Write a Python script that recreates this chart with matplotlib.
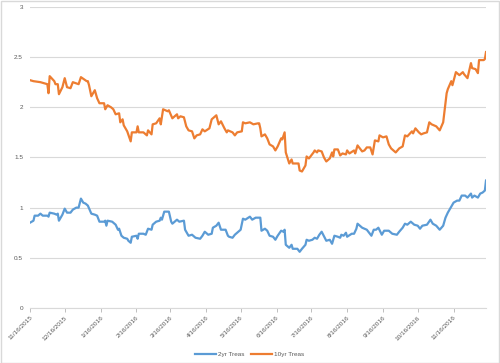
import matplotlib
matplotlib.use("Agg")
import matplotlib.pyplot as plt
import matplotlib.dates as mdates
import pandas as pd
from matplotlib.patches import Rectangle

# ---- data ----
dates_10y = ["2015-11-16","2015-11-19","2015-11-25","2015-12-01","2015-12-02","2015-12-03","2015-12-07",
    "2015-12-08","2015-12-10","2015-12-11","2015-12-14","2015-12-16","2015-12-18","2015-12-21","2015-12-23",
    "2015-12-28","2015-12-30","2016-01-04","2016-01-05","2016-01-06","2016-01-08","2016-01-11","2016-01-13",
    "2016-01-15","2016-01-19","2016-01-20","2016-01-22","2016-01-25","2016-01-27","2016-01-29","2016-02-01",
    "2016-02-02","2016-02-04","2016-02-05","2016-02-08","2016-02-11","2016-02-12","2016-02-16","2016-02-17",
    "2016-02-18","2016-02-22","2016-02-25","2016-02-26","2016-02-29","2016-03-01","2016-03-04","2016-03-07",
    "2016-03-08","2016-03-10","2016-03-14","2016-03-15","2016-03-18","2016-03-22","2016-03-23","2016-03-25",
    "2016-03-28","2016-03-30","2016-04-01","2016-04-04","2016-04-06","2016-04-08","2016-04-11","2016-04-13",
    "2016-04-15","2016-04-19","2016-04-21","2016-04-25","2016-04-27","2016-04-29","2016-05-02","2016-05-04",
    "2016-05-05","2016-05-09","2016-05-11","2016-05-13","2016-05-17","2016-05-18","2016-05-20","2016-05-24",
    "2016-05-27","2016-05-31","2016-06-01","2016-06-02","2016-06-03","2016-06-06","2016-06-08","2016-06-10",
    "2016-06-13","2016-06-15","2016-06-17","2016-06-20","2016-06-21","2016-06-23","2016-06-24","2016-06-27",
    "2016-06-29","2016-06-30","2016-07-05","2016-07-06","2016-07-08","2016-07-11","2016-07-12","2016-07-14",
    "2016-07-18","2016-07-19","2016-07-21","2016-07-22","2016-07-25","2016-07-27","2016-07-29","2016-08-01",
    "2016-08-03","2016-08-04","2016-08-05","2016-08-08","2016-08-10","2016-08-12","2016-08-15","2016-08-16",
    "2016-08-18","2016-08-22","2016-08-23","2016-08-25","2016-08-29","2016-08-31","2016-09-02","2016-09-05",
    "2016-09-07","2016-09-09","2016-09-12","2016-09-13","2016-09-16","2016-09-19","2016-09-21","2016-09-23",
    "2016-09-27","2016-09-30","2016-10-03","2016-10-05","2016-10-07","2016-10-11","2016-10-12","2016-10-14",
    "2016-10-17","2016-10-19","2016-10-21","2016-10-24","2016-10-26","2016-10-28","2016-11-01","2016-11-04",
    "2016-11-07","2016-11-10","2016-11-11","2016-11-14","2016-11-15","2016-11-18","2016-11-21","2016-11-24",
    "2016-11-25","2016-11-28","2016-12-01","2016-12-02","2016-12-05","2016-12-07","2016-12-08","2016-12-12",
    "2016-12-13","2016-12-14"]
values_10y = [2.27,2.26,2.25,2.23,2.14,2.31,2.26,
    2.23,2.23,2.13,2.20,2.29,2.20,2.19,2.25,
    2.23,2.30,2.26,2.26,2.22,2.11,2.17,2.09,
    2.04,2.04,1.98,2.02,2.00,1.98,1.93,1.94,
    1.85,1.88,1.82,1.76,1.66,1.75,1.75,1.81,
    1.75,1.75,1.72,1.77,1.73,1.83,1.84,1.89,
    1.83,1.98,1.96,1.97,1.89,1.93,1.89,1.91,
    1.90,1.81,1.77,1.76,1.69,1.72,1.73,1.78,
    1.76,1.79,1.88,1.92,1.83,1.86,1.79,1.75,
    1.77,1.75,1.72,1.75,1.76,1.85,1.84,1.85,
    1.83,1.84,1.84,1.79,1.71,1.73,1.69,1.63,
    1.61,1.57,1.61,1.69,1.68,1.75,1.55,1.44,
    1.48,1.44,1.44,1.37,1.36,1.42,1.51,1.49,
    1.55,1.57,1.55,1.57,1.56,1.50,1.46,1.49,
    1.55,1.51,1.58,1.58,1.52,1.54,1.53,1.57,
    1.54,1.57,1.54,1.62,1.56,1.57,1.60,1.60,
    1.53,1.67,1.66,1.72,1.70,1.71,1.63,1.59,
    1.55,1.59,1.61,1.72,1.71,1.76,1.74,1.79,
    1.75,1.73,1.74,1.75,1.85,1.83,1.81,1.77,
    1.85,2.14,2.18,2.26,2.22,2.35,2.32,2.35,
    2.33,2.29,2.44,2.39,2.38,2.34,2.47,2.47,
    2.48,2.55]

dates_2y = ["2015-11-16","2015-11-19","2015-11-20","2015-11-23","2015-11-25","2015-11-27","2015-12-01",
    "2015-12-02","2015-12-03","2015-12-07","2015-12-09","2015-12-10","2015-12-11","2015-12-14","2015-12-16",
    "2015-12-18","2015-12-21","2015-12-23","2015-12-26","2015-12-28","2015-12-30","2016-01-01","2016-01-03",
    "2016-01-05","2016-01-08","2016-01-11","2016-01-13","2016-01-15","2016-01-19","2016-01-20","2016-01-21",
    "2016-01-22","2016-01-26","2016-01-29","2016-01-31","2016-02-01","2016-02-03","2016-02-05","2016-02-08",
    "2016-02-09","2016-02-11","2016-02-12","2016-02-16","2016-02-17","2016-02-18","2016-02-22","2016-02-24",
    "2016-02-26","2016-02-29","2016-03-01","2016-03-04","2016-03-07","2016-03-08","2016-03-09","2016-03-11",
    "2016-03-15","2016-03-17","2016-03-18","2016-03-22","2016-03-24","2016-03-28","2016-03-29","2016-04-01",
    "2016-04-04","2016-04-07","2016-04-11","2016-04-13","2016-04-15","2016-04-18","2016-04-21","2016-04-22",
    "2016-04-25","2016-04-27","2016-04-29","2016-05-03","2016-05-05","2016-05-06","2016-05-09","2016-05-11",
    "2016-05-13","2016-05-16","2016-05-18","2016-05-20","2016-05-24","2016-05-26","2016-05-29","2016-06-01",
    "2016-06-02","2016-06-03","2016-06-06","2016-06-08","2016-06-10","2016-06-13","2016-06-15","2016-06-17",
    "2016-06-20","2016-06-22","2016-06-23","2016-06-24","2016-06-27","2016-06-29","2016-06-30","2016-07-04",
    "2016-07-06","2016-07-08","2016-07-11","2016-07-12","2016-07-14","2016-07-17","2016-07-19","2016-07-21",
    "2016-07-23","2016-07-25","2016-07-29","2016-08-01","2016-08-03","2016-08-05","2016-08-08","2016-08-10",
    "2016-08-11","2016-08-13","2016-08-15","2016-08-16","2016-08-20","2016-08-22","2016-08-24","2016-08-25",
    "2016-08-29","2016-08-31","2016-09-02","2016-09-06","2016-09-08","2016-09-10","2016-09-12","2016-09-15",
    "2016-09-17","2016-09-21","2016-09-24","2016-09-28","2016-09-30","2016-10-03","2016-10-05","2016-10-07",
    "2016-10-10","2016-10-13","2016-10-16","2016-10-18","2016-10-20","2016-10-24","2016-10-27","2016-10-29",
    "2016-11-01","2016-11-04","2016-11-07","2016-11-09","2016-11-11","2016-11-14","2016-11-16","2016-11-19",
    "2016-11-21","2016-11-23","2016-11-26","2016-11-28","2016-12-01","2016-12-02","2016-12-04","2016-12-07",
    "2016-12-09","2016-12-11","2016-12-13","2016-12-14"]
values_2y = [0.85,0.87,0.92,0.92,0.94,0.92,0.92,
    0.91,0.95,0.94,0.93,0.94,0.87,0.93,0.99,
    0.95,0.95,0.98,1.00,1.00,1.09,1.05,1.04,
    1.02,0.94,0.93,0.92,0.86,0.86,0.87,0.82,
    0.87,0.86,0.83,0.78,0.79,0.72,0.70,0.69,
    0.67,0.65,0.71,0.72,0.69,0.74,0.74,0.73,
    0.79,0.78,0.83,0.86,0.87,0.90,0.88,0.96,
    0.96,0.86,0.84,0.88,0.86,0.87,0.78,0.72,
    0.73,0.70,0.69,0.72,0.76,0.73,0.74,0.80,
    0.82,0.85,0.78,0.78,0.72,0.71,0.70,0.73,
    0.75,0.78,0.89,0.88,0.91,0.88,0.90,0.90,
    0.90,0.77,0.79,0.77,0.72,0.71,0.68,0.72,
    0.77,0.76,0.78,0.63,0.60,0.63,0.59,0.59,
    0.56,0.59,0.63,0.68,0.67,0.68,0.70,0.69,
    0.73,0.76,0.67,0.68,0.64,0.72,0.71,0.70,
    0.73,0.72,0.75,0.71,0.74,0.74,0.79,0.84,
    0.80,0.79,0.78,0.72,0.78,0.78,0.80,0.73,
    0.77,0.77,0.74,0.73,0.76,0.80,0.84,0.83,
    0.86,0.83,0.82,0.79,0.82,0.83,0.88,0.84,
    0.82,0.78,0.82,0.90,0.95,1.01,1.05,1.07,
    1.07,1.12,1.12,1.10,1.14,1.10,1.12,1.10,
    1.14,1.15,1.17,1.27]

series_names = ["2yr Treas", "10yr Treas"]
series_colors = ["#5B9BD5", "#ED7D31"]
tick_dates = ["2015-11-16","2015-12-16","2016-01-16","2016-02-16","2016-03-16","2016-04-16",
              "2016-05-16","2016-06-16","2016-07-16","2016-08-16","2016-09-16","2016-10-16","2016-11-16"]
y_ticks = [0, 0.5, 1, 1.5, 2, 2.5, 3]
y_labels = ["0", "0.5", "1", "1.5", "2", "2.5", "3"]

plt.rcParams['font.family'] = ['Liberation Sans', 'DejaVu Sans']

fig = plt.figure(figsize=(5.0, 3.63), dpi=100)
fig.patch.set_facecolor("white")
ax = fig.add_axes([0.06, 0.1515, 0.912, 0.8295])

d2 = pd.to_datetime(dates_2y)
d10 = pd.to_datetime(dates_10y)
ax.plot(d2, values_2y, color=series_colors[0], lw=1.6, label=series_names[0], zorder=3)
ax.plot(d10, values_10y, color=series_colors[1], lw=1.6, label=series_names[1], zorder=3)

ax.set_xlim(pd.Timestamp("2015-11-16"), pd.Timestamp("2016-12-14"))
ax.set_ylim(0, 3)
ax.set_yticks(y_ticks)
ax.set_yticklabels(y_labels)
ax.yaxis.grid(True, color="#d9d9d9", lw=0.8)
ax.set_axisbelow(True)

ticks = pd.to_datetime(tick_dates)
ax.set_xticks(ticks)
ax.set_xticklabels([f"{t.month}/{t.day}/{t.year}" for t in ticks], rotation=45,
                   ha="right", va="top", rotation_mode="anchor")
ax.tick_params(axis="x", colors="#595959", labelsize=4.6, length=3, width=0.7, pad=2,
               color="#bfbfbf")
ax.tick_params(axis="y", colors="#595959", labelsize=4.6, length=0, pad=5)

for s in ["top", "right", "left"]:
    ax.spines[s].set_visible(False)
ax.spines["bottom"].set_color("#d9d9d9")
ax.spines["bottom"].set_linewidth(0.8)

leg = fig.legend(loc="lower center", bbox_to_anchor=(0.5, 0.0), ncol=2, frameon=False,
                 fontsize=4.6, handlelength=3.2, columnspacing=1.0, handletextpad=0.4)
for t in leg.get_texts():
    t.set_color("#595959")

fig.add_artist(Rectangle((0.001, 0.001), 0.997, 0.996, transform=fig.transFigure,
                         fill=False, edgecolor="#d9d9d9", lw=1.0))

fig.savefig("out.png", dpi=100)
